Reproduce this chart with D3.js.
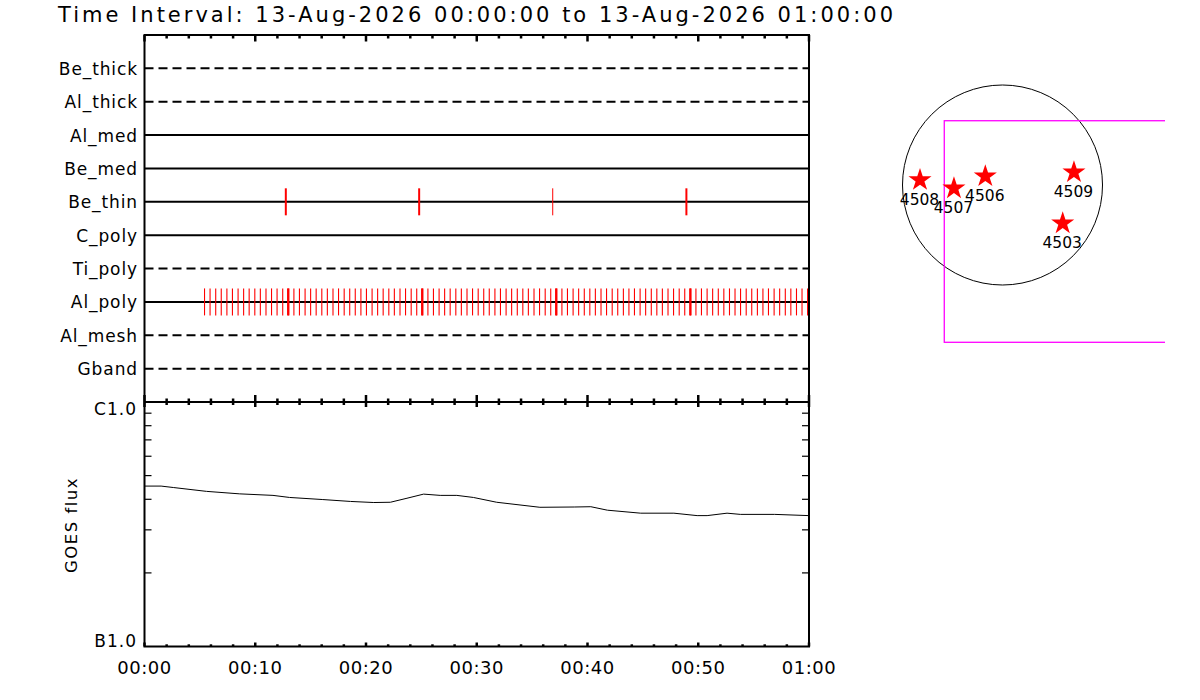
<!DOCTYPE html>
<html><head><meta charset="utf-8">
<script src="https://cdn.jsdelivr.net/npm/d3@7"></script>
<style>
body{margin:0;background:#fff}
text{font-family:"DejaVu Sans",sans-serif;fill:#000}
</style>
</head><body>
<svg id="chart" width="1200" height="700"></svg>
<script>
// ---------------- data ----------------
const titleText = "Time Interval: 13-Aug-2026 00:00:00 to 13-Aug-2026 01:00:00";
const channels = ["Be_thick","Al_thick","Al_med","Be_med","Be_thin","C_poly","Ti_poly","Al_poly","Al_mesh","Gband"];
const channelInUse = [0,0,1,1,1,1,0,1,0,0];
// exposure times (minutes after 00:00)
const beThinTimes = [12.76, 24.80, 36.86, 48.93];
const alPolyTimes = [5.42,5.92,6.43,6.93,7.44,7.94,8.45,8.95,9.45,9.96,10.46,10.97,11.47,11.97,12.48,12.98,13.49,13.99,14.50,15.00,
  15.50,16.01,16.51,17.02,17.52,18.03,18.53,19.03,19.54,20.04,20.55,21.05,21.55,22.06,22.56,23.07,23.57,24.08,24.58,25.08,
  25.59,26.09,26.60,27.10,27.60,28.11,28.61,29.12,29.62,30.13,30.63,31.13,31.64,32.14,32.65,33.15,33.66,34.16,34.66,35.17,
  35.67,36.18,36.68,37.18,37.69,38.19,38.70,39.20,39.71,40.21,40.71,41.22,41.72,42.23,42.73,43.24,43.74,44.24,44.75,45.25,
  45.76,46.26,46.76,47.27,47.77,48.28,48.78,49.29,49.79,50.29,50.80,51.30,51.81,52.31,52.82,53.32,53.82,54.33,54.83,55.34,
  55.84,56.34,56.85,57.35,57.86,58.36,58.87,59.37,59.87];
const alPolyHeavyTimes = [12.98, 25.08, 37.18, 49.29];
const majorTickMinutes = [0,10,20,30,40,50,60];
const minorTickMinutes = [2,4,6,8,12,14,16,18,22,24,26,28,32,34,36,38,42,44,46,48,52,54,56,58];
const timeTickLabels = ["00:00","00:10","00:20","00:30","00:40","00:50","01:00"];
// GOES flux (W/m^2)
const goesMinutes = [0,1.5,2.6,5.6,8.6,11.6,13.1,16.1,18.6,20.7,22.2,23.7,25.2,26.7,28.2,29.7,31.8,35.7,38.8,40.3,41.8,44.8,47.8,49.9,50.8,52.6,53.8,56.9,60];
const goesFlux = [4.53e-7,4.53e-7,4.47e-7,4.31e-7,4.21e-7,4.15e-7,4.07e-7,3.99e-7,3.92e-7,3.88e-7,3.89e-7,4.04e-7,4.20e-7,4.15e-7,4.15e-7,4.07e-7,3.89e-7,3.71e-7,3.72e-7,3.73e-7,3.61e-7,3.51e-7,3.51e-7,3.43e-7,3.43e-7,3.51e-7,3.47e-7,3.47e-7,3.43e-7];
const goesMajorValues = [1e-7, 1e-6];
const goesMajorLabels = ["B1.0","C1.0"];
const goesMinorValues = [2e-7,3e-7,4e-7,5e-7,6e-7,7e-7,8e-7,9e-7];
const goesAxisTitle = "GOES flux";
// active regions (arcsec from disk centre)
const arNumbers = ["4508","4507","4506","4509","4503"];
const arX = [-792,-466,-165,686,578];
const arY = [48,-32,84,122,-368];
const solarRadius = 960;
const fovX = [-559, 2000];
const fovY = [617, -1510];

// ---------------- layout ----------------
const svg = d3.select("#chart");
const L = 144.5, R = 809, T = 35, M = 402, B = 646.5;
const x = d3.scaleLinear().domain([0,60]).range([L,R]);
const yRow = d3.scalePoint().domain(channels).range([T,M]).padding(1);
const yFlux = d3.scaleLog().domain([1e-7,1e-6]).range([B,M]);

// title
svg.append("text").attr("x",58).attr("y",22).attr("font-size",21)
  .attr("textLength",835).attr("lengthAdjust","spacing").text(titleText);

// channel rows
const rowG = svg.append("g");
channels.forEach((c,i)=>{
  rowG.append("line").attr("x1",L).attr("x2",R).attr("y1",yRow(c)).attr("y2",yRow(c))
    .attr("stroke","#000").attr("stroke-width",2)
    .attr("stroke-dasharray", channelInUse[i] ? null : "9,5");
  rowG.append("text").attr("x",138).attr("y",yRow(c)+6.5).attr("text-anchor","end")
    .attr("font-size",17).attr("letter-spacing",0.9).text(c);
});

// exposure ticks
const ev = svg.append("g").attr("stroke","#f00");
ev.selectAll("line.bt").data(beThinTimes).enter().append("line")
  .attr("x1",d=>x(d)).attr("x2",d=>x(d))
  .attr("y1",yRow("Be_thin")-13.5).attr("y2",yRow("Be_thin")+13.5)
  .attr("stroke-width",(d,i)=> i===2 ? 1 : 2);
ev.selectAll("line.ap").data(alPolyTimes).enter().append("line")
  .attr("x1",d=>x(d)).attr("x2",d=>x(d))
  .attr("y1",yRow("Al_poly")-13.5).attr("y2",yRow("Al_poly")+13.5)
  .attr("stroke-width",1.1);
ev.selectAll("line.aph").data(alPolyHeavyTimes).enter().append("line")
  .attr("x1",d=>x(d)).attr("x2",d=>x(d))
  .attr("y1",yRow("Al_poly")-13.5).attr("y2",yRow("Al_poly")+13.5)
  .attr("stroke-width",2.4);

// GOES curve
const line = d3.line().x((d,i)=>x(goesMinutes[i])).y(d=>yFlux(d));
svg.append("path").attr("d",line(goesFlux)).attr("fill","none").attr("stroke","#000").attr("stroke-width",1);

// frames
const ax = svg.append("g").attr("stroke","#000").attr("fill","none");
ax.append("rect").attr("x",L).attr("y",T).attr("width",R-L).attr("height",B-T).attr("stroke-width",2);
ax.append("line").attr("x1",L).attr("x2",R).attr("y1",M).attr("y2",M).attr("stroke-width",2);

function xTicks(vals, y0, up, down, w){
  ax.selectAll(null).data(vals).enter().append("line")
    .attr("x1",d=>x(d)).attr("x2",d=>x(d)).attr("y1",y0-up).attr("y2",y0+down).attr("stroke-width",w);
}
// top panel: top axis (down), bottom axis (up)
xTicks(majorTickMinutes, T, 0, 6.5, 2.5);
xTicks(minorTickMinutes, T, 0, 3.5, 2.5);
xTicks(majorTickMinutes, M, 7, 5, 2.5);
xTicks(minorTickMinutes, M, 3.5, 3, 2.5);
// bottom panel bottom axis (up)
xTicks(majorTickMinutes, B, 4, 0, 2.5);
xTicks(minorTickMinutes, B, 2.2, 0, 2.5);

// y minor ticks of flux panel
ax.selectAll(null).data(goesMinorValues).enter().append("line")
  .attr("x1",L).attr("x2",L+7).attr("y1",d=>yFlux(d)).attr("y2",d=>yFlux(d)).attr("stroke-width",1.2);
ax.selectAll(null).data(goesMinorValues).enter().append("line")
  .attr("x1",R-7).attr("x2",R).attr("y1",d=>yFlux(d)).attr("y2",d=>yFlux(d)).attr("stroke-width",1.2);

// labels
svg.selectAll("text.xl").data(timeTickLabels).enter().append("text")
  .attr("x",(d,i)=>x(majorTickMinutes[i])).attr("y",674).attr("text-anchor","middle")
  .attr("font-size",18).attr("letter-spacing",0.5).text(d=>d);
svg.selectAll("text.yl").data(goesMajorLabels).enter().append("text")
  .attr("x",137).attr("y",(d,i)=> yFlux(goesMajorValues[i]) + (i===0 ? 0.5 : 12.5))
  .attr("text-anchor","end").attr("font-size",17).attr("letter-spacing",1).text(d=>d);
svg.append("text").attr("transform","translate(77,525) rotate(-90)").attr("text-anchor","middle")
  .attr("font-size",16.5).attr("letter-spacing",1.5).text(goesAxisTitle);

// ---------------- solar map ----------------
const cx = 1002.5, cy = 185, rpx = 100;
const sx = d3.scaleLinear().domain([-solarRadius, solarRadius]).range([cx-rpx, cx+rpx]);
const sy = d3.scaleLinear().domain([-solarRadius, solarRadius]).range([cy+rpx, cy-rpx]);
svg.append("clipPath").attr("id","mapclip").append("rect").attr("x",880).attr("y",60).attr("width",1165-880).attr("height",300);
const map = svg.append("g").attr("clip-path","url(#mapclip)");
map.append("circle").attr("cx",sx(0)).attr("cy",sy(0)).attr("r",sx(solarRadius)-sx(0))
  .attr("fill","none").attr("stroke","#000").attr("stroke-width",1);
map.append("rect").attr("x",sx(fovX[0])).attr("y",sy(fovY[0]))
  .attr("width",sx(fovX[1])-sx(fovX[0])).attr("height",sy(fovY[1])-sy(fovY[0]))
  .attr("fill","none").attr("stroke","#ff00ff").attr("stroke-width",1.3);
const star = d3.symbol().type(d3.symbolStar).size(165);
svg.selectAll("path.ar").data(arNumbers).enter().append("path")
  .attr("d",star).attr("fill","#f00")
  .attr("transform",(d,i)=>`translate(${sx(arX[i])},${sy(arY[i])})`);
svg.selectAll("text.ar").data(arNumbers).enter().append("text")
  .attr("x",(d,i)=>sx(arX[i])-0.5).attr("y",(d,i)=>sy(arY[i])+24.5)
  .attr("text-anchor","middle").attr("font-size",15.5).text(d=>d);
</script>
</body></html>
